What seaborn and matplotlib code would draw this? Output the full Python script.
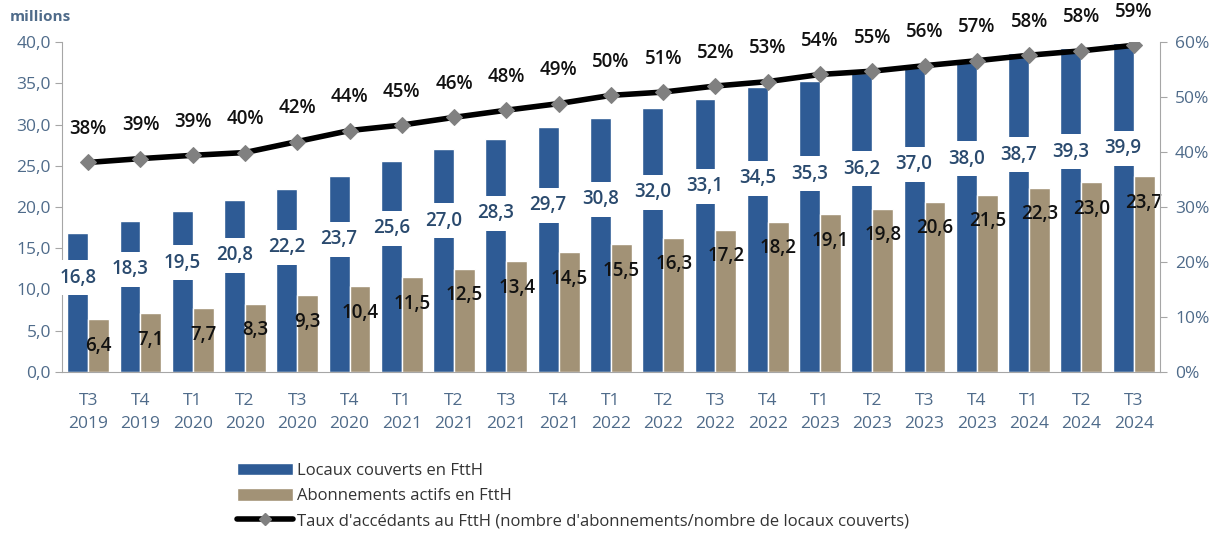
import numpy as np
import pandas as pd
import matplotlib
matplotlib.use("Agg")
import matplotlib.pyplot as plt
import seaborn as sns
from matplotlib.patches import Patch
from matplotlib.lines import Line2D

# --- data ---
trimestres = ["T3\n2019", "T4\n2019", "T1\n2020", "T2\n2020", "T3\n2020", "T4\n2020",
              "T1\n2021", "T2\n2021", "T3\n2021", "T4\n2021", "T1\n2022", "T2\n2022",
              "T3\n2022", "T4\n2022", "T1\n2023", "T2\n2023", "T3\n2023", "T4\n2023",
              "T1\n2024", "T2\n2024", "T3\n2024"]
couverts = [16.8, 18.3, 19.5, 20.8, 22.2, 23.7, 25.6, 27.0, 28.3, 29.7, 30.8,
            32.0, 33.1, 34.5, 35.3, 36.2, 37.0, 38.0, 38.7, 39.3, 39.9]
abonnements = [6.4, 7.1, 7.7, 8.3, 9.3, 10.4, 11.5, 12.5, 13.4, 14.5, 15.5,
               16.3, 17.2, 18.2, 19.1, 19.8, 20.6, 21.5, 22.3, 23.0, 23.7]
taux = [38.1, 38.8, 39.4, 39.9, 41.9, 43.9, 44.9, 46.3, 47.6, 48.8, 50.3,
        50.9, 52.0, 52.8, 54.1, 54.7, 55.7, 56.6, 57.6, 58.4, 59.4]

lab_couverts = "Locaux couverts en FttH"
lab_abos = "Abonnements actifs en FttH"
lab_taux = "Taux d'accédants au FttH (nombre d'abonnements/nombre de locaux couverts)"

BLUE = "#2E5B95"
TAN = "#A29276"
AXCOL = "#4F6B8A"
SPINE = "#A6A6A6"

df = pd.DataFrame({
    "trimestre": trimestres * 2,
    "millions": couverts + abonnements,
    "serie": [lab_couverts] * len(trimestres) + [lab_abos] * len(trimestres),
})

sns.set_style("white")
plt.rcParams["font.family"] = ["Open Sans", "DejaVu Sans"]

fig = plt.figure(figsize=(12.26, 5.36), dpi=100)
ax = fig.add_axes([0.0506, 0.306, 0.8954, 0.6156])

sns.barplot(data=df, x="trimestre", y="millions", hue="serie",
            palette=[BLUE, TAN], width=0.8, gap=0, saturation=1,
            legend=False, ax=ax)

ax.set_xlim(-0.5, len(trimestres) - 0.5)
ax.set_ylim(0, 40)
ax.set_xlabel("")
ax.set_ylabel("")
yt = np.arange(0, 41, 5)
ax.set_yticks(yt)
ax.set_yticklabels([f"{v:.1f}".replace(".", ",") for v in yt],
                   color=AXCOL, fontsize=12.5)
ax.set_xticks(np.arange(len(trimestres)))
ax.set_xticklabels(trimestres, color=AXCOL, fontsize=12.5, linespacing=1.6)
ax.set_xticks(np.arange(-0.5, len(trimestres), 1), minor=True)
ax.tick_params(axis="x", which="major", length=0, pad=15)
ax.tick_params(axis="x", which="minor", length=6, color=SPINE, direction="out")
ax.tick_params(axis="y", length=5, color=SPINE, direction="out", left=True, pad=3)
for s in ["top", "right"]:
    ax.spines[s].set_visible(False)
for s in ["left", "bottom"]:
    ax.spines[s].set_color(SPINE)

# labels for bars
blue_bars, tan_bars = ax.containers[0], ax.containers[1]
for bar, v in zip(blue_bars, couverts):
    x = bar.get_x() + bar.get_width() / 2
    ax.text(x, v * 0.68, f"{v:.1f}".replace(".", ","), ha="center", va="center",
            fontsize=13.5, color="#2A4A6E", fontweight="semibold",
            bbox=dict(boxstyle="square,pad=0.4", fc="white", ec="none"), zorder=4)
for bar, v in zip(tan_bars, abonnements):
    x = bar.get_x() + bar.get_width() / 2
    ax.annotate(f"{v:.1f}".replace(".", ","), xy=(x, v), xytext=(0, -19),
                textcoords="offset points", ha="center", va="center",
                fontsize=13.5, color="#111111", fontweight="semibold", zorder=4)

# line on secondary axis
ax2 = ax.twinx()
xs = np.arange(len(trimestres))
sns.lineplot(x=xs, y=taux, ax=ax2, color="black", lw=4, marker="D",
             markersize=8, markerfacecolor="#808080", markeredgecolor="#808080",
             zorder=5)
ax2.set_ylim(0, 60)
ax2.set_xlim(-0.5, len(trimestres) - 0.5)
rt = np.arange(0, 61, 10)
ax2.set_yticks(rt)
ax2.set_yticklabels([f"{v}%" for v in rt], color=AXCOL, fontsize=12.5)
ax2.tick_params(axis="y", length=5, color=SPINE, direction="out", right=True, pad=6)
for s in ["top", "left", "bottom"]:
    ax2.spines[s].set_visible(False)
ax2.spines["right"].set_color(SPINE)
for x, t in zip(xs, taux):
    ax2.annotate(f"{t:.0f}%", xy=(x, t), xytext=(0, 24), textcoords="offset points",
                 ha="center", va="center", fontsize=13.5, fontweight="semibold",
                 color="#111111", annotation_clip=False)

fig.text(0.008, 0.968, "millions", fontsize=11, fontweight="bold",
         color=AXCOL, va="center", ha="left")

handles = [Patch(facecolor=BLUE), Patch(facecolor=TAN),
           Line2D([0], [0], color="black", lw=4, marker="D", markersize=6,
                  markerfacecolor="#808080", markeredgecolor="#808080")]
fig.legend(handles, [lab_couverts, lab_abos, lab_taux], loc="upper left",
           bbox_to_anchor=(0.193, 0.136), frameon=False, fontsize=12,
           handlelength=3.4, handleheight=0.75, labelspacing=0.55,
           handletextpad=0.25, borderaxespad=0, borderpad=0, labelcolor="#333333")

fig.savefig("out.png", dpi=100, facecolor="white")
